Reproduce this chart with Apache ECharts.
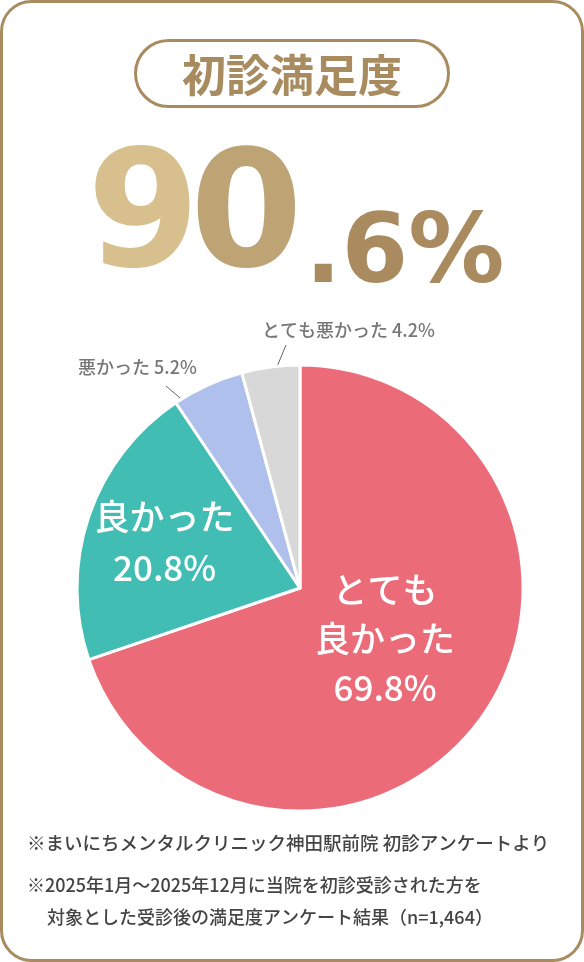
<!DOCTYPE html>
<html><head><meta charset="utf-8">
<script src="https://cdn.jsdelivr.net/npm/echarts@6/dist/echarts.min.js"></script>
<style>html,body{margin:0;padding:0;background:#fff}#c{width:584px;height:962px}</style>
</head><body><div id="c"></div>
<script>
const categories = ['とても良かった', '良かった', '悪かった', 'とても悪かった'];
const values = [69.8, 20.8, 5.2, 4.2];
const labelNames = ['とても\n良かった', '良かった', '悪かった', 'とても悪かった'];
const title = '初診満足度';
const bigMain = ['9', '0'];
const bigSub = '.6%';
const notes = [
  '※まいにちメンタルクリニック神田駅前院 初診アンケートより',
  '※2025年1月〜2025年12月に当院を初診受診された方を',
  '対象とした受診後の満足度アンケート結果（n=1,464）'
];
const colors = ['#EB6B78', '#42BDB4', '#AEC0EB', '#D8D8D8'];
const GOLD = '#A88B5E';
const JP = '"Noto Sans CJK JP", "Noto Sans", sans-serif';
const BIG = '"DejaVu Sans", sans-serif';

const chart = echarts.init(document.getElementById('c'), null, {renderer: 'canvas'});
const data = categories.map((c, i) => {
  const inside = i < 2;
  return {
    name: c, value: values[i],
    itemStyle: {color: colors[i]},
    label: inside ? {
      position: 'inside', color: '#fff', fontSize: 35, fontWeight: 500, lineHeight: i === 0 ? 49 : 51,
      fontFamily: JP, align: 'center',
      formatter: () => labelNames[i] + '\n' + values[i].toFixed(1) + '%'
    } : {
      position: 'outside', color: '#777', fontSize: 18, fontWeight: 500, fontFamily: JP,
      formatter: () => labelNames[i] + ' ' + values[i].toFixed(1) + '%'
    },
    labelLine: {show: !inside, lineStyle: {color: '#666', width: 1}, length: 10, length2: 0}
  };
});

chart.setOption({
  animation: false,
  graphic: [
    {type: 'rect', shape: {x: 1.5, y: 1.5, width: 581, height: 959, r: 30},
     style: {fill: '#fff', stroke: GOLD, lineWidth: 3}, z: -10},
    {type: 'rect', shape: {x: 135.5, y: 40.5, width: 313, height: 66, r: 33},
     style: {fill: '#fff', stroke: GOLD, lineWidth: 3}},
    {type: 'text', x: 292, y: 75, style: {text: title, fill: GOLD, font: 'bold 44px ' + JP,
      align: 'center', verticalAlign: 'middle'}},
    {type: 'text', x: 87, y: 305, style: {text: bigMain[0], font: 'bold 162px ' + BIG,
      align: 'left', verticalAlign: 'bottom', fill: '#D7C08E'}},
    {type: 'text', x: 190, y: 305, style: {text: bigMain[1], font: 'bold 162px ' + BIG,
      align: 'left', verticalAlign: 'bottom', fill: '#BEA375'}},
    {type: 'text', x: 305, y: 305, style: {text: bigSub, font: 'bold 96px ' + BIG,
      align: 'left', verticalAlign: 'bottom', fill: '#A98B5F'}},
    {type: 'text', x: 27, y: 843, style: {text: notes[0], fill: '#444', font: '500 18.5px ' + JP,
      align: 'left', verticalAlign: 'middle'}},
    {type: 'text', x: 27, y: 885, style: {text: notes[1], fill: '#444', font: '500 18px ' + JP,
      align: 'left', verticalAlign: 'middle'}},
    {type: 'text', x: 47, y: 917, style: {text: notes[2], fill: '#444', font: '500 18px ' + JP,
      align: 'left', verticalAlign: 'middle'}}
  ],
  series: [{
    type: 'pie',
    center: [300, 588],
    radius: 223,
    startAngle: 90,
    clockwise: true,
    itemStyle: {borderColor: '#fff', borderWidth: 3},
    emphasis: {disabled: true},
    data: data,
    labelLayout: function (p) {
      if (p.dataIndex === 0) return {dx: -8, dy: -16};
      if (p.dataIndex === 1) return {dx: -27, dy: -9};
      if (p.dataIndex === 2) return {x: 78, y: 367, align: 'left', verticalAlign: 'middle',
        labelLinePoints: [[193, 409], [166, 386], [166, 386]]};
      if (p.dataIndex === 3) return {x: 262, y: 330, align: 'left', verticalAlign: 'middle',
        labelLinePoints: [[274, 374], [286, 345], [286, 345]]};
    }
  }]
});
</script></body></html>
